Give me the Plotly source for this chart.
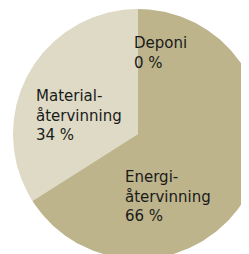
import numpy as np
import plotly.graph_objects as go

# Data
categories = ["Deponi", "Materialåtervinning", "Energiåtervinning"]
label_lines = ["Deponi", "Material-<br>återvinning", "Energi-<br>återvinning"]
values = [0, 34, 66]
colors = ["#BDB48B", "#DEDAC5", "#BDB48B"]

# Layout (reference pixel units; page body has an 8px margin)
OFF = 8
W, H = 249, 254
cx, cy, r = 138, 134, 125
label_pos = [(132, 32), (34, 85), (123, 166)]

fig = go.Figure()
total = sum(values)
start = 0.0
for cat, v, col in zip(categories, values, colors):
    if v <= 0:
        continue
    a0 = start / total * 2 * np.pi
    a1 = (start + v) / total * 2 * np.pi
    t = np.linspace(a0, a1, 200)
    xs = np.concatenate([[cx], cx - r * np.sin(t), [cx]])
    ys = np.concatenate([[cy], cy - r * np.cos(t), [cy]])
    fig.add_trace(go.Scatter(x=xs, y=ys, fill="toself", fillcolor=col,
                             mode="lines", line=dict(width=0, color=col),
                             name=cat, hoverinfo="name", showlegend=False))
    start += v

for lbl, v, (px, py) in zip(label_lines, values, label_pos):
    fig.add_annotation(x=px, y=py, xref="x", yref="y", xanchor="left", yanchor="top",
                       align="left", showarrow=False,
                       text=f"{lbl}<br>{v} %",
                       font=dict(family="DejaVu Sans", size=15, color="#1a1a1a"))

fig.update_layout(width=W - OFF, height=H - OFF, margin=dict(l=0, r=0, t=0, b=0),
                  paper_bgcolor="white", plot_bgcolor="white",
                  xaxis=dict(range=[OFF, W], visible=False, fixedrange=True),
                  yaxis=dict(range=[H, OFF], visible=False, fixedrange=True))
fig.write_html("out.html")
